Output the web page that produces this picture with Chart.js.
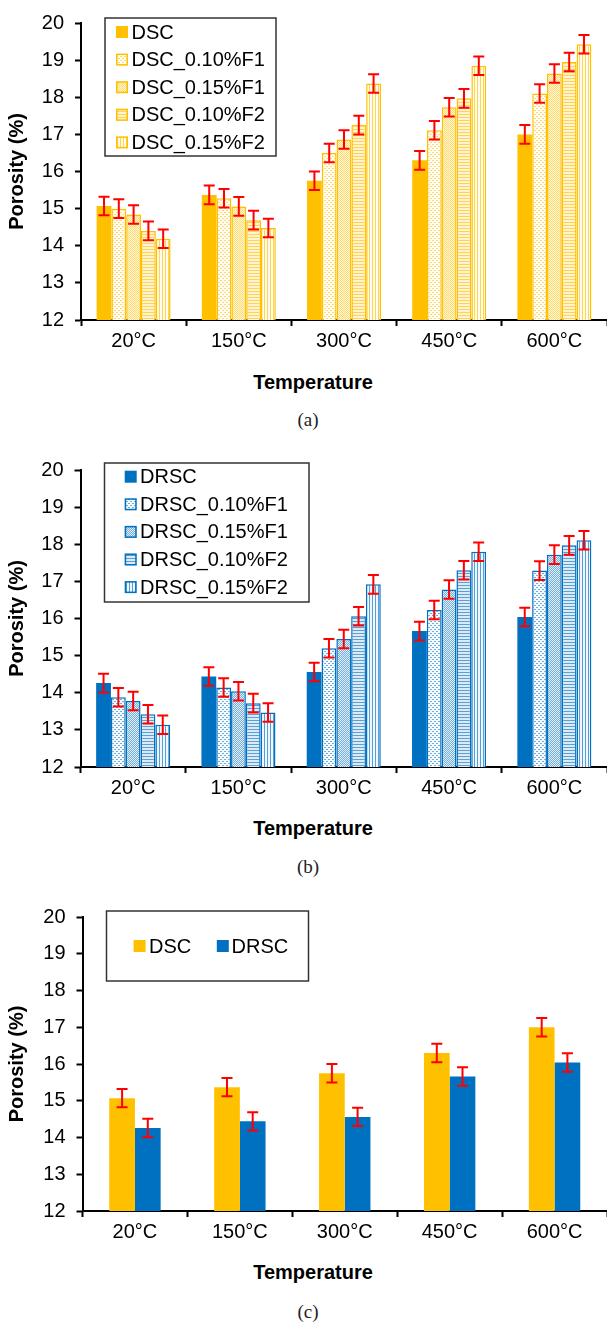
<!DOCTYPE html>
<html>
<head>
<meta charset="utf-8">
<script src="https://cdn.jsdelivr.net/npm/chart.js@4.4.0/dist/chart.umd.min.js"></script>
<style>
  body { margin: 0; background: #fff; width: 607px; height: 1322px; position: relative; overflow: hidden; }
  .panel { position: absolute; left: 0; width: 607px; height: 360px; }
  .xtitle { position: absolute; width: 240px; text-align: center; font: bold 20px "Liberation Sans", Arial, sans-serif; line-height: 24px; color: #000; }
  .caption { position: absolute; width: 80px; text-align: center; font: 19px "Liberation Serif", "Times New Roman", serif; line-height: 24px; color: #222; }
</style>
</head>
<body>
<div class="panel" style="top:0"><canvas id="chartA" width="607" height="360"></canvas></div>
<div class="xtitle" style="left:193px; top:370px">Temperature</div>
<div class="caption" style="left:268px; top:408px">(a)</div>

<div class="panel" style="top:447px"><canvas id="chartB" width="607" height="360"></canvas></div>
<div class="xtitle" style="left:193px; top:816px">Temperature</div>
<div class="caption" style="left:268px; top:855px">(b)</div>

<div class="panel" style="top:894px"><canvas id="chartC" width="607" height="360"></canvas></div>
<div class="xtitle" style="left:193px; top:1260px">Temperature</div>
<div class="caption" style="left:268px; top:1300px">(c)</div>

<script>
(() => {
'use strict'

// Porosity (%) after exposure to each temperature
const temps = ['20°C', '150°C', '300°C', '450°C', '600°C']

const dsc       = [15.07, 15.37, 15.75, 16.30, 17.00]
const dsc010F1  = [15.00, 15.28, 16.50, 17.11, 18.10]
const dsc015F1  = [14.84, 15.06, 16.86, 17.73, 18.64]
const dsc010F2  = [14.40, 14.69, 17.25, 17.97, 18.95]
const dsc015F2  = [14.19, 14.48, 18.37, 18.85, 19.43]

const drsc      = [14.26, 14.44, 14.56, 15.66, 16.04]
const drsc010F1 = [13.88, 14.14, 15.20, 16.23, 17.29]
const drsc015F1 = [13.78, 14.04, 15.45, 16.78, 17.72]
const drsc010F2 = [13.42, 13.72, 16.06, 17.30, 17.97]
const drsc015F2 = [13.14, 13.47, 16.92, 17.80, 18.11]

// +/- error on every bar
const errHalf = 0.25

const yMin = 12
const yMax = 20

const ORANGE = '#FFC000'
const BLUE = '#0070C0'

Chart.defaults.font.family = '"Liberation Sans", Arial, sans-serif'
Chart.defaults.color = '#000'

// small repeating fills for the fibre mixes
function fill(color, bg, kind) {
  const c = document.createElement('canvas')
  const g = c.getContext('2d')
  if (kind === 'dots') {
    c.width = 4; c.height = 4
    g.fillStyle = bg; g.fillRect(0, 0, 4, 4)
    g.globalAlpha = 0.55
    g.fillStyle = color
    g.fillRect(0, 0, 2, 1); g.fillRect(2, 2, 2, 1)
  } else if (kind === 'fine') {
    c.width = 2; c.height = 2
    g.fillStyle = bg; g.fillRect(0, 0, 2, 2)
    g.globalAlpha = 0.5
    g.fillStyle = color
    g.fillRect(0, 0, 1, 1); g.fillRect(1, 1, 1, 1)
  } else if (kind === 'hlines') {
    c.width = 1; c.height = 3
    g.fillStyle = bg; g.fillRect(0, 0, 1, 3)
    g.globalAlpha = 0.6
    g.fillStyle = color
    g.fillRect(0, 0, 1, 1)
  } else {
    c.width = 3; c.height = 1
    g.fillStyle = bg; g.fillRect(0, 0, 3, 1)
    g.globalAlpha = 0.65
    g.fillStyle = color
    g.fillRect(0, 0, 1, 1)
  }
  return g.createPattern(c, 'repeat')
}

function solid(label, data, color) {
  return { label, data, backgroundColor: color, borderWidth: 0 }
}

function hatched(label, data, color, bg, kind) {
  return {
    label, data,
    backgroundColor: fill(color, bg, kind),
    borderColor: color,
    borderWidth: 1.5,
    borderSkipped: false
  }
}

// red I-bars on top of each bar
const errorBars = {
  id: 'errorBars',
  afterDatasetsDraw(chart) {
    const ctx = chart.ctx
    const y = chart.scales.y
    ctx.save()
    ctx.strokeStyle = '#FF0000'
    ctx.lineWidth = 2
    chart.data.datasets.forEach((ds, i) => {
      chart.getDatasetMeta(i).data.forEach((bar, j) => {
        const v = ds.data[j]
        const top = y.getPixelForValue(v + errHalf)
        const bot = y.getPixelForValue(v - errHalf)
        ctx.beginPath()
        ctx.moveTo(bar.x, top); ctx.lineTo(bar.x, bot)
        ctx.moveTo(bar.x - 5.5, top); ctx.lineTo(bar.x + 5.5, top)
        ctx.moveTo(bar.x - 5.5, bot); ctx.lineTo(bar.x + 5.5, bot)
        ctx.stroke()
      })
    })
    ctx.restore()
  }
}

// framed legend sitting inside the plot
const boxLegend = {
  id: 'boxLegend',
  afterDraw(chart, args, o) {
    const ctx = chart.ctx
    const [bx, by, bw, bh] = o.box
    ctx.save()
    ctx.fillStyle = '#fff'
    ctx.fillRect(bx, by, bw, bh)
    ctx.strokeStyle = '#333'
    ctx.lineWidth = 1.5
    ctx.strokeRect(bx, by, bw, bh)
    ctx.font = '20px "Liberation Sans", Arial, sans-serif'
    ctx.textBaseline = 'middle'
    chart.data.datasets.forEach((ds, i) => {
      const [sx, sy, tx] = o.items[i]
      ctx.fillStyle = ds.backgroundColor
      ctx.fillRect(sx, sy - 6, 12, 12)
      if (ds.borderWidth) {
        ctx.strokeStyle = ds.borderColor
        ctx.lineWidth = 1.5
        ctx.strokeRect(sx + 0.75, sy - 5.25, 10.5, 10.5)
      }
      ctx.fillStyle = '#000'
      ctx.fillText(ds.label, tx, sy + 1)
    })
    ctx.restore()
  }
}

function scales(axisWidth, xHeight) {
  return {
    x: {
      afterFit: s => { s.height = xHeight },
      grid: { drawOnChartArea: false, drawTicks: true, tickLength: 6, tickWidth: 2, tickColor: '#000', offset: true },
      border: { color: '#000', width: 2 },
      ticks: { color: '#000', font: { size: 20 }, padding: 3 }
    },
    y: {
      min: yMin,
      max: yMax,
      afterFit: s => { s.width = axisWidth },
      grid: { drawOnChartArea: false, tickLength: 6, tickWidth: 2, tickColor: '#000' },
      border: { color: '#000', width: 2 },
      ticks: { stepSize: 1, color: '#000', font: { size: 20 }, padding: 11 },
      title: {
        display: true,
        text: 'Porosity (%)',
        color: '#000',
        font: { size: 20, weight: 'bold' },
        padding: { top: 5, bottom: 0 }
      }
    }
  }
}

function makeChart(id, datasets, catPct, axisWidth, xHeight, legendOpts) {
  return new Chart(document.getElementById(id), {
    type: 'bar',
    data: { labels: temps, datasets },
    options: {
      responsive: false,
      animation: false,
      devicePixelRatio: 1,
      events: [],
      layout: { padding: { top: 17, left: 0, right: 0, bottom: 0 } },
      datasets: { bar: { categoryPercentage: catPct, barPercentage: 1 } },
      scales: scales(axisWidth, xHeight),
      plugins: {
        legend: { display: false },
        tooltip: { enabled: false },
        boxLegend: legendOpts
      }
    },
    plugins: [errorBars, boxLegend]
  })
}

const rows = (sx, y0, tx) => [0, 1, 2, 3, 4].map(k => [sx, y0 + k * 27.6, tx])

// (a) DSC mixes
makeChart('chartA', [
  solid('DSC', dsc, ORANGE),
  hatched('DSC_0.10%F1', dsc010F1, ORANGE, '#FFFDF5', 'dots'),
  hatched('DSC_0.15%F1', dsc015F1, ORANGE, '#FFF6DC', 'fine'),
  hatched('DSC_0.10%F2', dsc010F2, ORANGE, '#FFF3D2', 'hlines'),
  hatched('DSC_0.15%F2', dsc015F2, ORANGE, '#FFFBEF', 'vlines')
], 0.703, 81, 40, { box: [105, 18, 171, 138], items: rows(116, 32, 131.5) })

// (b) DRSC mixes
makeChart('chartB', [
  solid('DRSC', drsc, BLUE),
  hatched('DRSC_0.10%F1', drsc010F1, BLUE, '#F6FAFD', 'dots'),
  hatched('DRSC_0.15%F1', drsc015F1, BLUE, '#E4EEF8', 'fine'),
  hatched('DRSC_0.10%F2', drsc010F2, BLUE, '#DDEAF6', 'hlines'),
  hatched('DRSC_0.15%F2', drsc015F2, BLUE, '#F1F6FC', 'vlines')
], 0.703, 80.5, 40, { box: [104.5, 16, 204.5, 139], items: rows(124.7, 29.7, 140) })

// (c) plain mixes side by side
makeChart('chartC', [
  solid('DSC', dsc, ORANGE),
  solid('DRSC', drsc, BLUE)
], 0.49, 82.5, 43, { box: [106.5, 17, 202, 70], items: [[133.6, 52, 149], [216.8, 52, 231.5]] })
})()
</script>
</body>
</html>
